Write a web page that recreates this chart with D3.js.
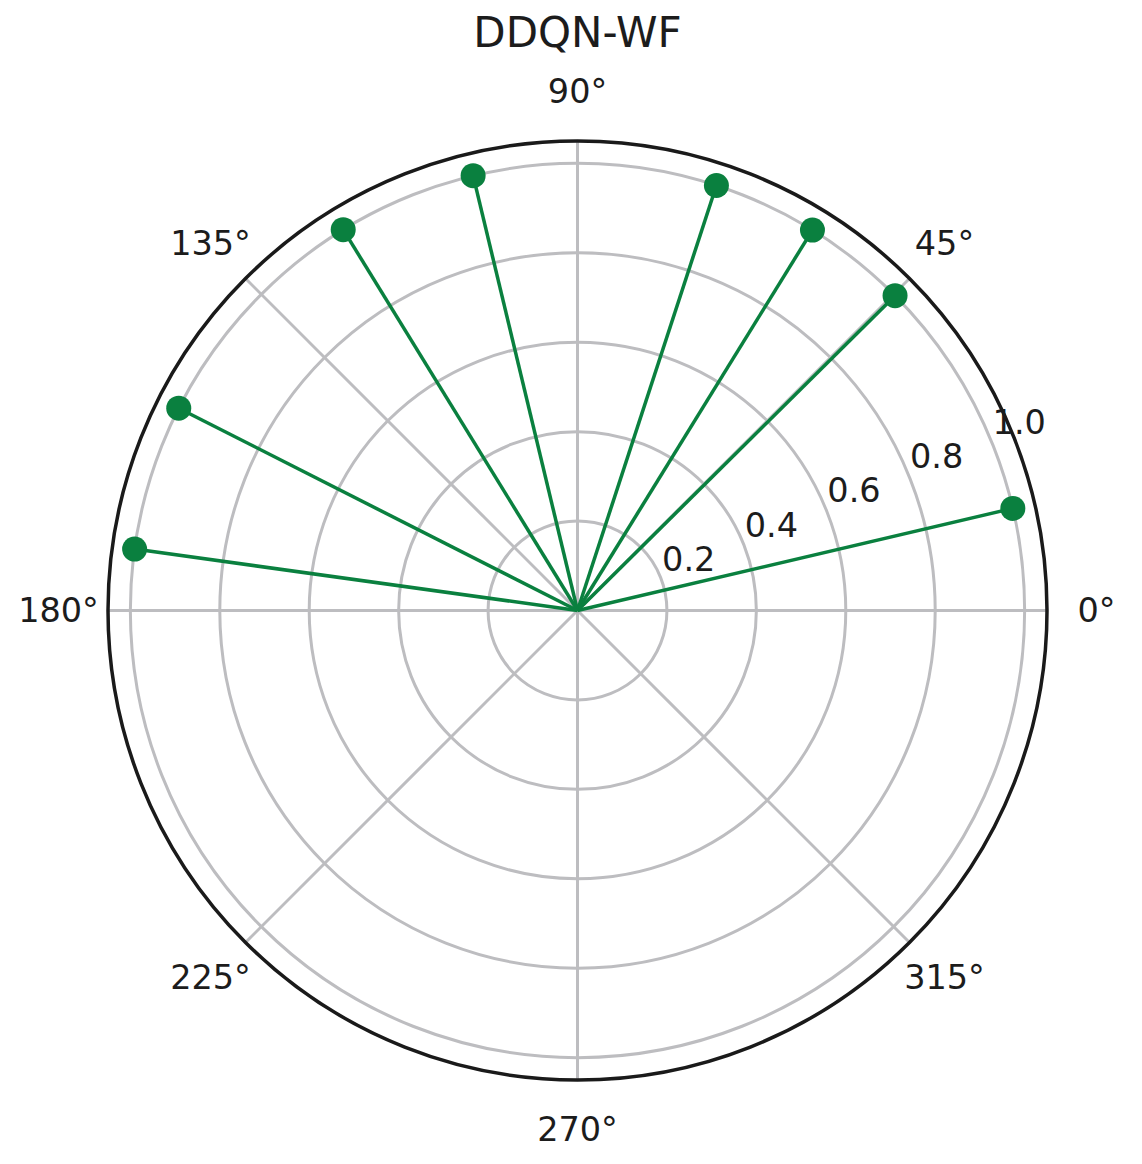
<!DOCTYPE html>
<html>
<head>
<meta charset="utf-8">
<script src="https://cdn.jsdelivr.net/npm/d3@7"></script>
<style>
  body { margin: 0; background: #fff; }
  text { font-family: "DejaVu Sans", sans-serif; fill: #1c1c1c; }
</style>
</head>
<body>
<div id="chart"></div>
<script>
// Beam directions (degrees) and their normalised gains
const angles = [13.2, 44.75, 58.3, 71.9, 103.5, 121.6, 153.1, 172.1];
const gains = [1.0, 1.0, 1.0, 1.0, 1.0, 1.0, 1.0, 1.0];
const radialTicks = [0.2, 0.4, 0.6, 0.8, 1.0];
const angleTicks = [0, 45, 90, 135, 180, 225, 270, 315];

const width = 1142;
const height = 1164;
const cx = 577.5;
const cy = 610.5;
const outerR = 469.5;
const green = "#0a803f";

const svg = d3.select("#chart").append("svg").attr("width", width).attr("height", height);
const g = svg.append("g").attr("transform", `translate(${cx},${cy})`);

const r = d3.scaleLinear().domain([0, 1.05]).range([0, outerR]);
const toRad = (deg) => (deg * Math.PI) / 180;
// screen coords, y up
const px = (deg, v) => r(v) * Math.cos(toRad(deg));
const py = (deg, v) => -r(v) * Math.sin(toRad(deg));

// Grid circles
g.selectAll("circle.grid")
  .data(radialTicks)
  .join("circle")
  .attr("class", "grid")
  .attr("r", (d) => r(d))
  .attr("fill", "none")
  .attr("stroke", "#bdbdc0")
  .attr("stroke-width", 3);

// Angular grid lines
g.selectAll("line.spoke")
  .data(angleTicks)
  .join("line")
  .attr("class", "spoke")
  .attr("x1", 0)
  .attr("y1", 0)
  .attr("x2", (d) => px(d, 1.05))
  .attr("y2", (d) => py(d, 1.05))
  .attr("stroke", "#bdbdc0")
  .attr("stroke-width", 3);

// Outer frame
g.append("circle")
  .attr("r", r(1.05))
  .attr("fill", "none")
  .attr("stroke", "#1a1a1a")
  .attr("stroke-width", 3.5);

// Angle labels
g.selectAll("text.theta")
  .data(angleTicks)
  .join("text")
  .attr("class", "theta")
  .attr("x", (d) => (519 / outerR) * px(d, 1.05))
  .attr("y", (d) => (519 / outerR) * py(d, 1.05))
  .attr("text-anchor", "middle")
  .attr("dominant-baseline", "central")
  .attr("font-size", 33.5)
  .text((d) => `${d}°`);

// Radial labels at 22.5°
g.selectAll("text.rlab")
  .data(radialTicks)
  .join("text")
  .attr("class", "rlab")
  .attr("x", (d) => px(22.5, d) + 2)
  .attr("y", (d) => py(22.5, d) - 5.5)
  .attr("text-anchor", "start")
  .attr("font-size", 33.5)
  .text((d) => d.toFixed(1));

// Stems from the origin
const pts = angles.map((a, i) => ({ a, v: gains[i] }));
g.selectAll("line.stem")
  .data(pts)
  .join("line")
  .attr("class", "stem")
  .attr("x1", 0)
  .attr("y1", 0)
  .attr("x2", (d) => px(d.a, d.v))
  .attr("y2", (d) => py(d.a, d.v))
  .attr("stroke", green)
  .attr("stroke-width", 3.5);

g.selectAll("circle.dot")
  .data(pts)
  .join("circle")
  .attr("class", "dot")
  .attr("cx", (d) => px(d.a, d.v))
  .attr("cy", (d) => py(d.a, d.v))
  .attr("r", 12.5)
  .attr("fill", green);

// Title
svg.append("text")
  .attr("x", cx)
  .attr("y", 47)
  .attr("text-anchor", "middle")
  .attr("font-size", 42)
  .text("DDQN-WF");
</script>
</body>
</html>
